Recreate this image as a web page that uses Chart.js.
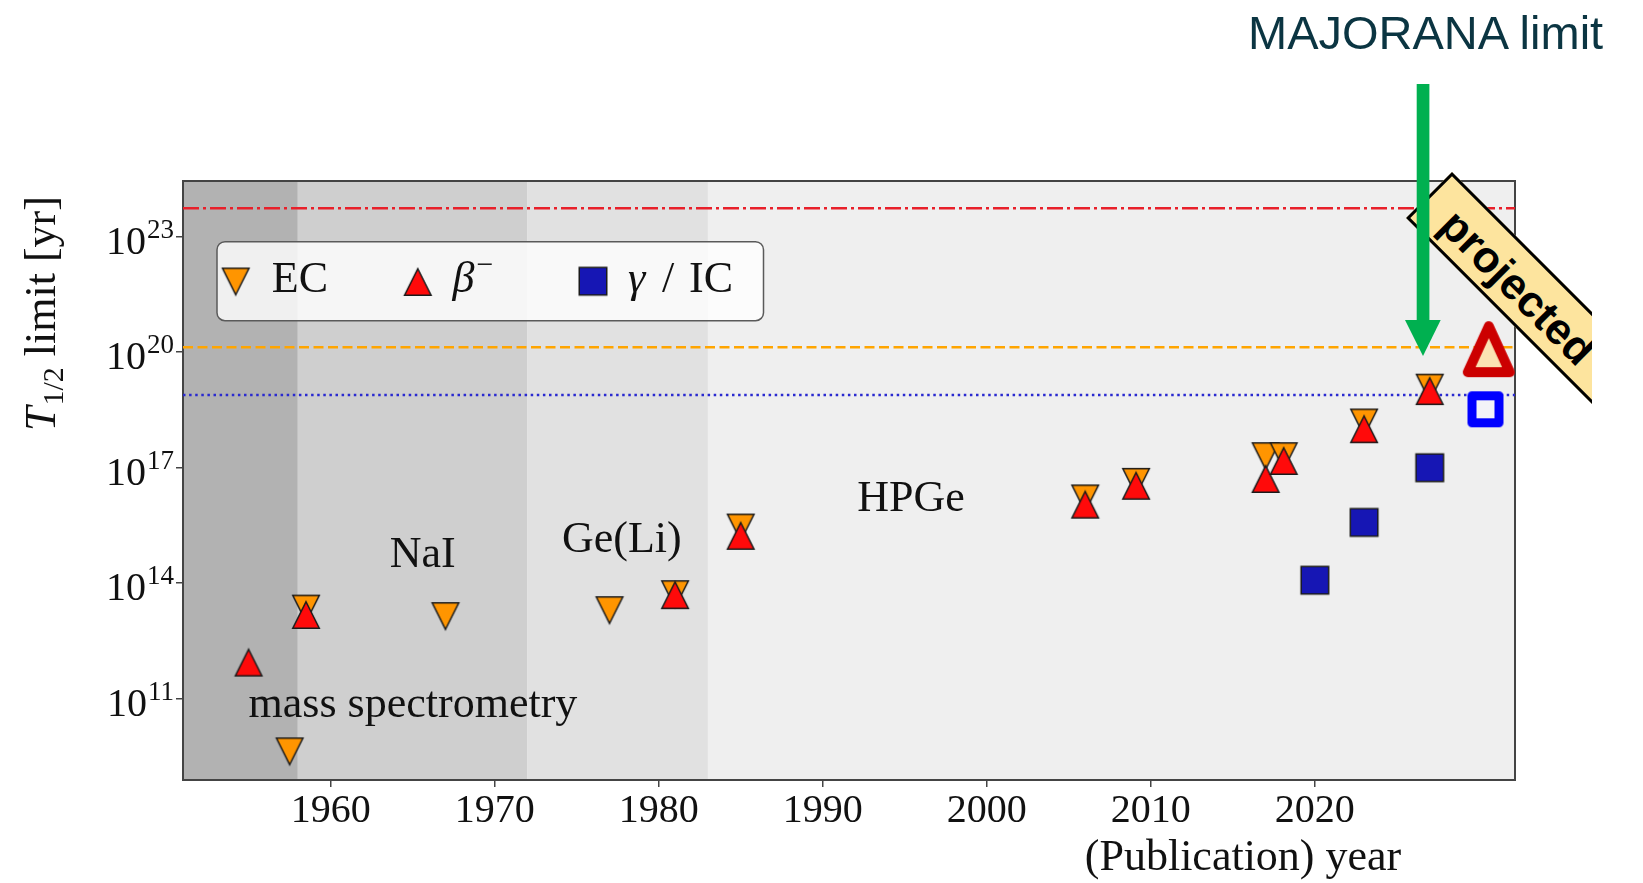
<!DOCTYPE html>
<html>
<head>
<meta charset="utf-8">
<script src="https://cdn.jsdelivr.net/npm/chart.js@4.4.1/dist/chart.umd.min.js"></script>
<style>
  html, body { margin: 0; padding: 0; background: #fff; }
  #wrap { position: relative; width: 1643px; height: 883px; overflow: hidden; }
  #c { position: absolute; left: 0; top: 0; }
  #bannerClip { position: absolute; left: 0; top: 0; width: 1592px; height: 883px; overflow: hidden; pointer-events: none; }
  #banner {
    position: absolute; left: 1451.7px; top: 171.7px; width: 340px; height: 65px;
    box-sizing: border-box; border: 3px solid #000; background: #fde49e;
    transform-origin: 0 0; transform: rotate(45deg);
  }
  #banner span {
    position: absolute; left: 26px; top: 7px; line-height: 44px;
    font: bold 44px "Liberation Sans", Arial, sans-serif; color: #000; white-space: nowrap;
  }
  #arrow { position: absolute; left: 0; top: 0; pointer-events: none; }
  #majorana {
    position: absolute; left: 1248px; top: 5px; line-height: 47px; white-space: nowrap;
    font: 47px "Liberation Sans", Arial, sans-serif; color: #0b3542;
  }
</style>
</head>
<body>
<div id="wrap">
  <canvas id="c" width="1643" height="883"></canvas>
  <div id="bannerClip"><div id="banner"><span>projected</span></div></div>
  <svg id="arrow" width="1643" height="883">
    <rect x="1416.7" y="84" width="12.7" height="238" fill="#00b050"/>
    <polygon points="1405,320 1440.7,320 1423,356" fill="#00b050"/>
  </svg>
  <div id="majorana">MAJORANA limit</div>
</div>
<script>
// Half-life limits (yr) by publication year, per decay channel
const ecYears   = [1957.5, 1958.5, 1967.0, 1977.0, 1981.0, 1985.0, 2006.0, 2009.1, 2017.0, 2018.1, 2023.0, 2027.0];
const ecLimits  = [4.3e9, 2.2e13, 1.4e13, 2.0e13, 5.2e13, 2.8e15, 1.6e16, 4.3e16, 2.0e17, 2.0e17, 1.5e18, 1.2e19];
const betaYears  = [1955.0, 1958.5, 1981.0, 1985.0, 2006.0, 2009.1, 2017.0, 2018.1, 2023.0, 2027.0];
const betaLimits = [8.7e11, 1.5e13, 4.9e13, 1.7e15, 1.1e16, 3.4e16, 5.1e16, 1.5e17, 1.0e18, 9.8e18];
const gammaYears  = [2020.0, 2023.0, 2027.0];
const gammaLimits = [1.2e14, 3.8e15, 1.0e17];

// Projected sensitivities
const projBetaYears   = [2030.6];
const projBetaLimits  = [1.2e20];
const projGammaYears  = [2030.4];
const projGammaLimits = [3.3e18];

// Reference levels
const betaLevel  = 5.5e23;
const ecLevel    = 1.34e20;
const gammaLevel = 7.8e18;

// Axes
const yearRange = [1951.0, 2032.2];
const limitRange = [7.76e8, 2.8e24];
const xTickValues = [1960, 1970, 1980, 1990, 2000, 2010, 2020];
const yTickValues = [1e11, 1e14, 1e17, 1e20, 1e23];

// Detector eras
const eraEdges = [1951.0, 1958.0, 1972.0, 1983.0, 2032.2];
const eraNames = ['mass spectrometry', 'NaI', 'Ge(Li)', 'HPGe'];
const eraNameYears  = [1955.0, 1963.6, 1974.1, 1992.1];
const eraNameLimits = [3.4e10, 2.7e14, 6.5e14, 7.6e15];
const eraColors = ['#b2b2b2', '#cfcfcf', '#e1e1e1', '#efefef'];

const SERIF = '"Liberation Serif", "Times New Roman", serif';

function pts(xs, ys) { return xs.map((x, i) => ({ x: x, y: ys[i] })); }
function level(v) { return [{ x: yearRange[0], y: v }, { x: yearRange[1], y: v }]; }

// Marker sprites (matplotlib-like triangles and squares)
function sprite(kind, w, h, fill, stroke, lw, join) {
  const pad = Math.ceil(lw) + 4;
  let s = Math.ceil(Math.max(w, h) + 2 * pad);
  if (s % 2) s += 1;
  const c = document.createElement('canvas');
  c.width = s; c.height = s;
  const g = c.getContext('2d');
  const m = s / 2, hw = w / 2, hh = h / 2;
  g.beginPath();
  if (kind === 'up') {
    g.moveTo(m, m - hh); g.lineTo(m + hw, m + hh); g.lineTo(m - hw, m + hh);
  } else if (kind === 'down') {
    g.moveTo(m, m + hh); g.lineTo(m + hw, m - hh); g.lineTo(m - hw, m - hh);
  } else {
    g.rect(m - hw, m - hh, w, h);
  }
  g.closePath();
  g.fillStyle = fill; g.fill();
  g.lineJoin = join; g.lineWidth = lw; g.strokeStyle = stroke; g.stroke();
  return c;
}
const mkEC    = sprite('down', 26.5, 26.5, '#ff9500', '#1a1a1a', 1.5, 'miter');
const mkBeta  = sprite('up',   26.5, 26.5, '#ff0a0a', '#1a1a1a', 1.5, 'miter');
const mkGamma = sprite('sq',   27.5, 27.5, '#1616b4', '#1a1a1a', 1.5, 'miter');
const mkProjBeta  = sprite('up', 42, 46, '#fbe3b3', '#cc0000', 10, 'round');
const mkProjGamma = sprite('sq', 27, 27, '#f3f3f8', '#0000ff', 9, 'round');

// Era shading under everything
const eraPlugin = {
  id: 'eras',
  beforeDraw(chart) {
    const { ctx, chartArea: a, scales: { x } } = chart;
    ctx.save();
    for (let i = 0; i < eraColors.length; i++) {
      const x0 = x.getPixelForValue(eraEdges[i]);
      const x1 = x.getPixelForValue(eraEdges[i + 1]);
      ctx.fillStyle = eraColors[i];
      ctx.fillRect(x0, a.top, x1 - x0, a.bottom - a.top);
    }
    ctx.restore();
  },
  beforeDatasetsDraw(chart) {
    const { ctx, chartArea: a } = chart;
    ctx.save();
    ctx.strokeStyle = '#444';
    ctx.lineWidth = 2;
    ctx.strokeRect(a.left, a.top, a.right - a.left, a.bottom - a.top);
    ctx.restore();
  }
};

// Tick labels, era names, axis titles and legend
const textPlugin = {
  id: 'texts',
  afterDraw(chart) {
    const { ctx, scales: { x, y } } = chart;
    ctx.save();
    ctx.fillStyle = '#111';
    ctx.textBaseline = 'alphabetic';

    // x tick labels
    ctx.font = '40px ' + SERIF;
    ctx.textAlign = 'center';
    xTickValues.forEach(v => ctx.fillText(String(v), x.getPixelForValue(v), 822));

    // y tick labels as 10^n
    yTickValues.forEach(v => {
      const py = y.getPixelForValue(v);
      const expo = String(Math.round(Math.log10(v)));
      ctx.textAlign = 'right';
      ctx.font = '27px ' + SERIF;
      const ew = ctx.measureText(expo).width;
      ctx.fillText(expo, 174, py + 1);
      ctx.font = '40px ' + SERIF;
      ctx.fillText('10', 174 - ew - 1, py + 17);
    });

    // era names
    ctx.textAlign = 'left';
    ctx.font = '44px ' + SERIF;
    eraNames.forEach((t, i) => {
      ctx.fillText(t, x.getPixelForValue(eraNameYears[i]), y.getPixelForValue(eraNameLimits[i]));
    });

    // x title
    ctx.textAlign = 'center';
    ctx.font = '44px ' + SERIF;
    ctx.fillText('(Publication) year', 1243, 870);

    // y title, rotated
    ctx.save();
    ctx.translate(55, 431);
    ctx.rotate(-Math.PI / 2);
    ctx.textAlign = 'left';
    let cx = 0;
    ctx.font = 'italic 44px ' + SERIF;
    ctx.fillText('T', cx, 0);
    cx += ctx.measureText('T').width + 1;
    ctx.font = '30px ' + SERIF;
    ctx.fillText('1/2', cx, 8);
    cx += ctx.measureText('1/2').width;
    ctx.font = '44px ' + SERIF;
    ctx.fillText(' limit [yr]', cx, 0);
    ctx.restore();

    // legend box
    const bx = 217, by = 241.7, bw = 546.5, bh = 79, r = 8;
    ctx.beginPath();
    ctx.moveTo(bx + r, by);
    ctx.arcTo(bx + bw, by, bx + bw, by + bh, r);
    ctx.arcTo(bx + bw, by + bh, bx, by + bh, r);
    ctx.arcTo(bx, by + bh, bx, by, r);
    ctx.arcTo(bx, by, bx + bw, by, r);
    ctx.closePath();
    ctx.fillStyle = 'rgba(255,255,255,0.8)';
    ctx.fill();
    ctx.strokeStyle = '#5a5a5a';
    ctx.lineWidth = 1.5;
    ctx.stroke();

    const items = [[mkEC, 235.7, 281.5], [mkBeta, 417.8, 282], [mkGamma, 593, 281.2]];
    items.forEach(([img, mx, my]) => ctx.drawImage(img, mx - img.width / 2, my - img.height / 2));

    ctx.fillStyle = '#111';
    ctx.textAlign = 'left';
    ctx.font = '44px ' + SERIF;
    ctx.fillText('EC', 271.8, 292.3);

    ctx.font = 'italic 44px ' + SERIF;
    ctx.fillText('\u03B2', 452.5, 292.3);
    const bw2 = ctx.measureText('\u03B2').width;
    ctx.font = '30px ' + SERIF;
    ctx.fillText('\u2212', 452.5 + bw2 + 2, 274);

    ctx.font = 'italic 44px ' + SERIF;
    ctx.fillText('\u03B3', 628, 292.3);
    ctx.font = '44px ' + SERIF;
    ctx.fillText('/', 662, 292.3);
    ctx.fillText('IC', 689, 292.3);

    ctx.restore();
  }
};

const scatterDefaults = { type: 'scatter', showLine: false, pointRadius: 5, pointHoverRadius: 5 };

new Chart(document.getElementById('c'), {
  data: {
    datasets: [
      { type: 'line', label: 'beta level', data: level(betaLevel), borderColor: '#e8202a', borderWidth: 2.5,
        borderDash: [16, 4, 3, 4], pointRadius: 0, fill: false, order: 10 },
      { type: 'line', label: 'EC level', data: level(ecLevel), borderColor: '#ffa500', borderWidth: 2.5,
        borderDash: [10, 4.5], pointRadius: 0, fill: false, order: 10 },
      { type: 'line', label: 'gamma level', data: level(gammaLevel), borderColor: '#2a2ad0', borderWidth: 2.5,
        borderDash: [2.5, 3.6], pointRadius: 0, fill: false, order: 10 },
      Object.assign({ label: 'EC', data: pts(ecYears, ecLimits), pointStyle: mkEC, order: 3 }, scatterDefaults),
      Object.assign({ label: '\u03B2\u207B', data: pts(betaYears, betaLimits), pointStyle: mkBeta, order: 2 }, scatterDefaults),
      Object.assign({ label: '\u03B3 / IC', data: pts(gammaYears, gammaLimits), pointStyle: mkGamma, order: 1 }, scatterDefaults),
      Object.assign({ label: 'projected \u03B2\u207B', data: pts(projBetaYears, projBetaLimits), pointStyle: mkProjBeta, order: 0, clip: false }, scatterDefaults),
      Object.assign({ label: 'projected \u03B3 / IC', data: pts(projGammaYears, projGammaLimits), pointStyle: mkProjGamma, order: 0, clip: false }, scatterDefaults)
    ]
  },
  options: {
    responsive: false,
    devicePixelRatio: 1,
    animation: false,
    events: [],
    layout: { padding: { top: 181, right: 128, left: 0, bottom: 0 } },
    plugins: { legend: { display: false }, tooltip: { enabled: false } },
    scales: {
      x: {
        type: 'linear', position: 'bottom', min: yearRange[0], max: yearRange[1], bounds: 'data',
        afterBuildTicks: s => { s.ticks = xTickValues.map(v => ({ value: v })); },
        afterFit: s => { s.height = 103; },
        ticks: { display: false },
        grid: { display: true, drawOnChartArea: false, drawTicks: true, tickLength: 7, color: '#444', lineWidth: 1.5 },
        border: { display: true, color: '#444', width: 2 }
      },
      y: {
        type: 'logarithmic', position: 'left', min: limitRange[0], max: limitRange[1], bounds: 'data',
        afterBuildTicks: s => { s.ticks = yTickValues.map(v => ({ value: v })); },
        afterFit: s => { s.width = 183; },
        ticks: { display: false },
        grid: { display: true, drawOnChartArea: false, drawTicks: true, tickLength: 7, color: '#444', lineWidth: 1.5 },
        border: { display: true, color: '#444', width: 2 }
      }
    }
  },
  plugins: [eraPlugin, textPlugin]
});
</script>
</body>
</html>
